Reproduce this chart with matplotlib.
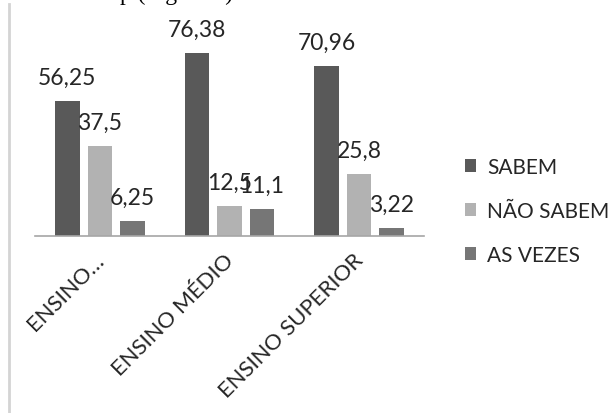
import matplotlib.pyplot as plt
import numpy as np
from matplotlib.patches import Patch
from matplotlib.lines import Line2D
import matplotlib.transforms as mtransforms

categories = ["ENSINO…", "ENSINO MÉDIO", "ENSINO SUPERIOR"]
series_names = ["SABEM", "NÃO SABEM", "AS VEZES"]
sabem = [56.25, 76.38, 70.96]
nao_sabem = [37.5, 12.5, 25.8]
as_vezes = [6.25, 11.1, 3.22]
colors = ["#595959", "#b2b2b2", "#767676"]

plt.rcParams["font.family"] = ["Lato", "DejaVu Sans"]

W, H = 616, 414
fig = plt.figure(figsize=(W / 100, H / 100), dpi=100)

# axes box in pixels: x 35..424, baseline at y=237 (from top), 2.396 px per unit
ymax = 80
left, right, base = 35, 424, 237
height_px = ymax * 2.396
ax = fig.add_axes([left / W, (H - base) / H, (right - left) / W, height_px / H])

x = np.arange(len(categories))
width = 0.19
step = 0.25
series = [sabem, nao_sabem, as_vezes]
for i, (vals, name, col) in enumerate(zip(series, series_names, colors)):
    pos = x + (i - 1) * step
    bars = ax.bar(pos, vals, width=width, color=col, label=name)
    for b, v in zip(bars, vals):
        ax.annotate(f"{v:g}".replace(".", ","),
                    (b.get_x() + b.get_width() / 2, b.get_height()),
                    xytext=(0, 17), textcoords="offset points",
                    ha="center", va="center", fontsize=16.5, color="#262626")

ax.set_xlim(-0.5, 2.5)
ax.set_ylim(0, ymax)
for s in ["top", "right", "left"]:
    ax.spines[s].set_visible(False)
ax.spines["bottom"].set_color("#a6a6a6")
ax.spines["bottom"].set_linewidth(1.2)
ax.set_yticks([])

ax.set_xticks(x)
ax.set_xticklabels(categories, rotation=45, ha="right", va="center",
                   rotation_mode="anchor", fontsize=16, color="#262626")
ax.tick_params(axis="x", length=0, pad=15)
shift = mtransforms.ScaledTranslation(1 / 100, 0, fig.dpi_scale_trans)
for lbl in ax.get_xticklabels():
    lbl.set_transform(lbl.get_transform() + shift)

handles = [Patch(facecolor=c, edgecolor="none") for c in colors]
fig.legend(handles, series_names, loc="center left",
           bbox_to_anchor=(465 / W, 1 - 212 / H), frameon=False,
           fontsize=15, handlelength=0.55, handleheight=0.55,
           handletextpad=0.5, labelspacing=1.15, borderpad=0,
           borderaxespad=0, labelcolor="#262626")

# chart frame edge on the left
fig.add_artist(Line2D([9 / W, 9 / W], [0, 1 - 5 / H], color="#d4d4d4", lw=2))

# cut-off caption line from the page above
fig.text(120 / W, 1.0, "p (Figura 1)", family="Liberation Serif",
         fontsize=17, va="baseline", color="black")

fig.savefig("out.png", dpi=100)
